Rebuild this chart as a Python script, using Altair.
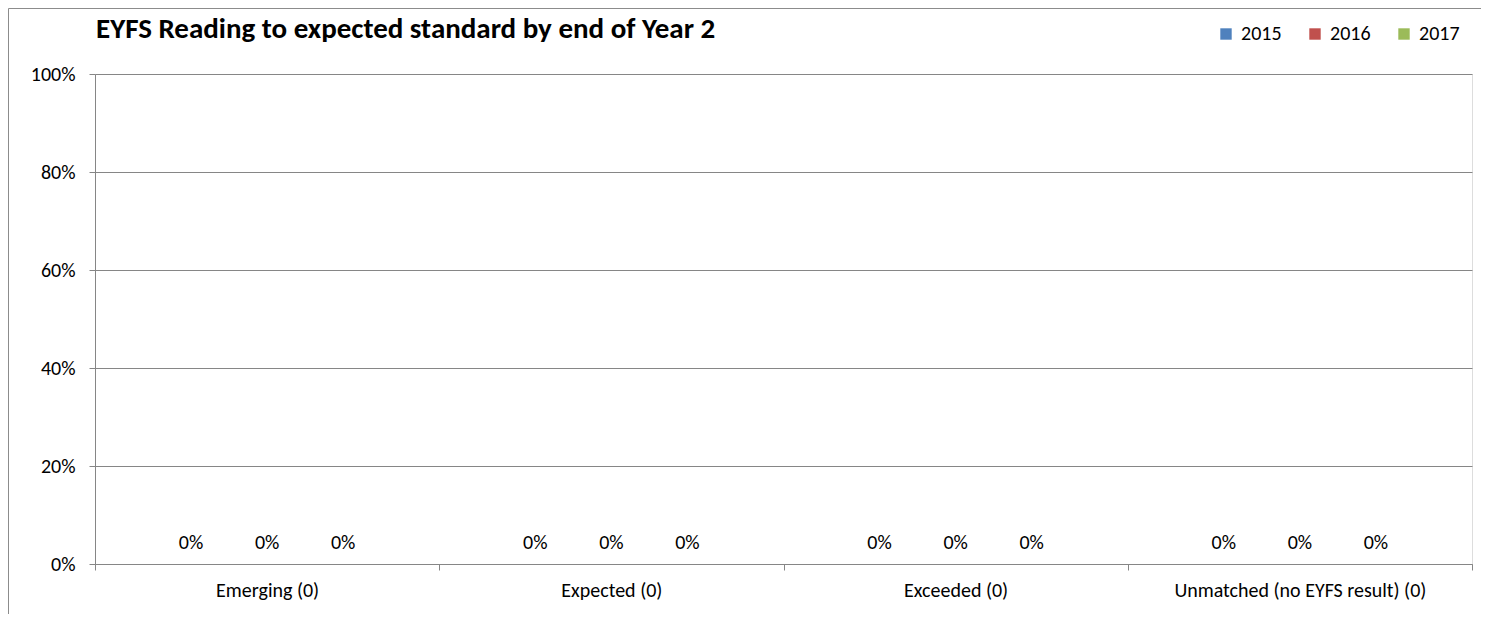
import altair as alt
import pandas as pd

categories = ["Emerging (0)", "Expected (0)", "Exceeded (0)", "Unmatched (no EYFS result) (0)"]
years = ["2015", "2016", "2017"]
values_2015 = [0, 0, 0, 0]
values_2016 = [0, 0, 0, 0]
values_2017 = [0, 0, 0, 0]
colors = ["#4F81BD", "#C0504D", "#9BBB59"]
y_ticks = [0, 0.2, 0.4, 0.6, 0.8, 1.0]
title_text = "EYFS Reading to expected standard by end of Year 2"

series = {"2015": values_2015, "2016": values_2016, "2017": values_2017}
rows = []
for yr in years:
    for cat, v in zip(categories, series[yr]):
        rows.append({"category": cat, "year": yr, "value": v})
df = pd.DataFrame(rows)

FONT = "Calibri, Carlito, 'Open Sans', sans-serif"
AXIS_GREY = "#868686"
FS = 20

x_enc = alt.X(
    "category:N",
    sort=categories,
    scale=alt.Scale(paddingInner=0, paddingOuter=0),
    axis=alt.Axis(
        title=None, labelAngle=0, tickBand="extent", grid=False,
        domainColor=AXIS_GREY, tickColor=AXIS_GREY, tickSize=6,
        labelFont=FONT, labelFontSize=FS, labelColor="#000000", labelPadding=10,
        labelLimit=0,
    ),
)
xo_enc = alt.XOffset("year:N", sort=years, scale=alt.Scale(paddingInner=0, paddingOuter=0.763))
y_enc = alt.Y(
    "value:Q",
    scale=alt.Scale(domain=[0, 1]),
    axis=alt.Axis(
        title=None, values=y_ticks, format=".0%", grid=True, gridColor=AXIS_GREY,
        domainColor=AXIS_GREY, tickColor=AXIS_GREY, tickSize=6,
        labelFont=FONT, labelFontSize=FS, labelColor="#000000", labelPadding=14,
    ),
)

base = alt.Chart(df)

bars = base.mark_bar().encode(
    x=x_enc,
    xOffset=xo_enc,
    y=y_enc,
    color=alt.Color(
        "year:N",
        sort=years,
        scale=alt.Scale(domain=years, range=colors),
        legend=alt.Legend(
            title=None, orient="none", direction="horizontal", legendX=1121, legendY=-50,
            symbolType="square", symbolSize=130, symbolStrokeWidth=0,
            labelFont=FONT, labelFontSize=FS, labelColor="#000000",
            labelOffset=5, columnPadding=23,
        ),
    ),
)

labels = base.mark_text(font=FONT, fontSize=FS, color="#000000", dy=-21, baseline="middle").encode(
    x=x_enc,
    xOffset=xo_enc,
    y=y_enc,
    text=alt.Text("value:Q", format=".0%"),
)

one = pd.DataFrame({"b": [0]})

border = alt.Chart(one).mark_rect(
    fillOpacity=0, stroke="#8c8c8c", strokeWidth=1, clip=False
).encode(
    x=alt.value(-86.5), x2=alt.value(1386.5), y=alt.value(-65.5), y2=alt.value(600)
)

title = alt.Chart(one).mark_text(
    font=FONT, fontSize=29, fontWeight="bold", color="#000000",
    align="left", baseline="alphabetic",
).encode(x=alt.value(1), y=alt.value(-36), text=alt.value(title_text))

chart = alt.layer(border, title, bars, labels).properties(
    width=1377,
    height=490,
    autosize=alt.AutoSizeParams(type="none"),
    padding={"left": 87, "top": 66, "right": 9, "bottom": 50},
).configure_view(stroke=None).configure(background="white")

chart.save("out.html", embed_options={"renderer": "svg", "actions": False})
